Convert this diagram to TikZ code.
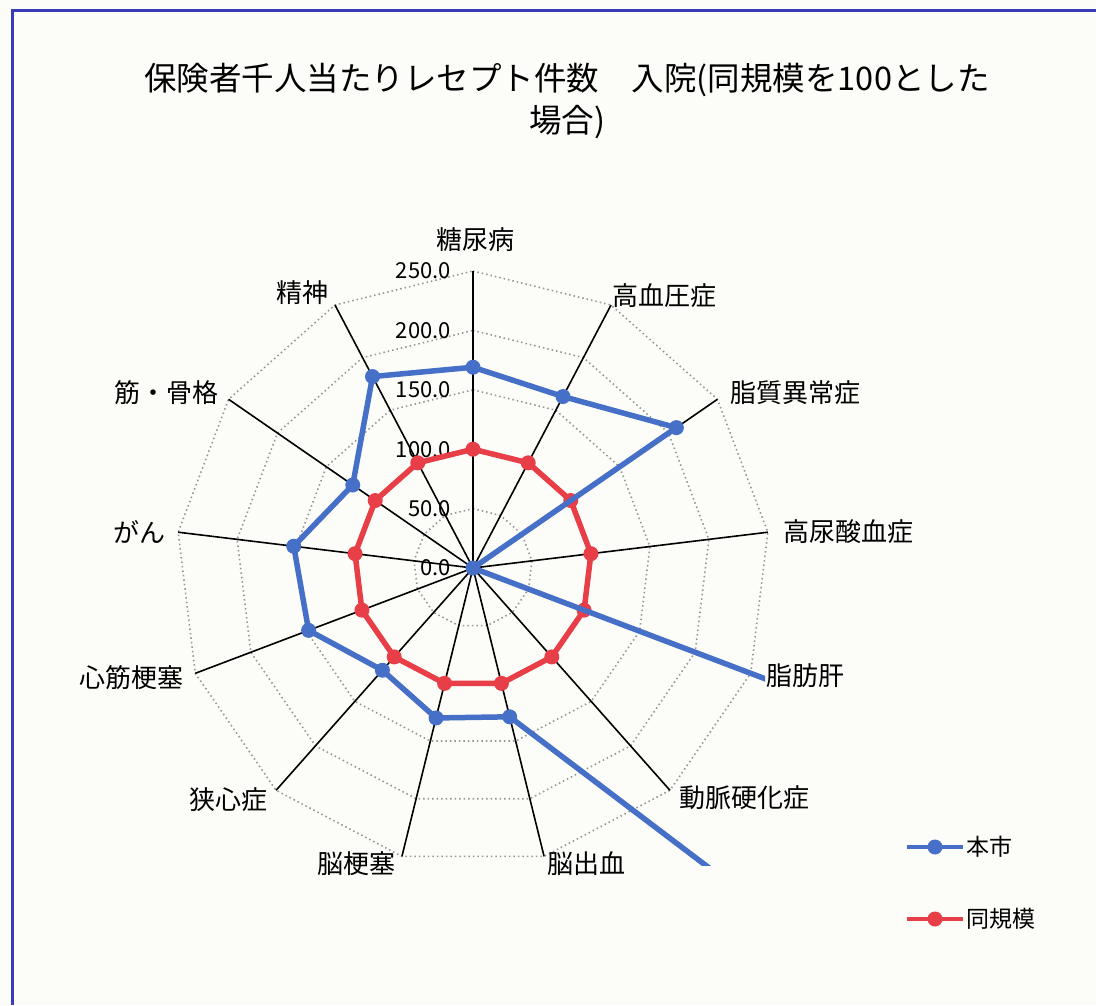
\documentclass[tikz,border=0pt]{standalone}
\usepackage{fontspec}
\setmainfont{Noto Sans CJK JP}
\usetikzlibrary{calc}
\definecolor{bgcol}{RGB}{252,252,248}
\definecolor{framecol}{RGB}{55,60,185}
\definecolor{serA}{RGB}{70,112,200}
\definecolor{serB}{RGB}{232,62,72}
\definecolor{gridcol}{RGB}{150,150,150}
\tikzset{
  gridring/.style={draw=gridcol, line width=1.6pt, dash pattern=on 1.5pt off 3pt},
  spoke/.style={draw=black, line width=1.6pt},
  seriesA/.style={draw=serA, line width=5.5pt, line join=round},
  seriesB/.style={draw=serB, line width=5.5pt, line join=round},
  dotA/.style={fill=serA, circle, inner sep=0pt, minimum size=15pt},
  dotB/.style={fill=serB, circle, inner sep=0pt, minimum size=15pt},
  catlabel/.style={font=\fontsize{26}{30}\selectfont, inner sep=0pt},
  ticklabel/.style={font=\fontsize{22}{26}\selectfont, inner sep=0pt, anchor=east},
  legtext/.style={font=\fontsize{23}{27}\selectfont, inner sep=0pt, anchor=west},
}
\begin{document}
\begin{tikzpicture}[x=1pt,y=1pt]
\useasboundingbox (0,0) rectangle (1096,-1005);
\fill[bgcol] (0,0) rectangle (1096,-1005);
\draw[framecol, line width=3pt] (12,-1005) -- (12,-10) -- (1096,-10);

% title
\node[font=\fontsize{32.5}{42}\selectfont, align=center, inner sep=0pt] (title) at (567,-101)
  {保険者千人当たりレセプト件数　入院(同規模を100とした\\場合)};

\coordinate (O) at (473,-568);

% grid rings
\foreach \r in {1,...,5}{
  \draw[gridring] ($(O)+(90:\r*59.4)$)
    \foreach \k in {1,...,12}{ -- ($(O)+({90-\k*360/13}:\r*59.4)$) } -- cycle;
}

% spokes
\foreach \k in {0,...,12}{
  \coordinate (ax\k) at ($(O)+({90-\k*360/13}:297)$);
  \draw[spoke] (O) -- (ax\k);
}

% tick labels
\foreach \t [count=\i from 0] in {0.0,50.0,100.0,150.0,200.0,250.0}{
  \node[ticklabel] (tick\i) at (451,{-568+\i*59.4}) {\t};
}

% series B (同規模)
\foreach \k in {0,...,12}{
  \coordinate (b\k) at ($(O)+({90-\k*360/13}:118.8)$);
}
\draw[seriesB] (b0) -- (b1) -- (b2) -- (b3) -- (b4) -- (b5) -- (b6) -- (b7) -- (b8) -- (b9) -- (b10) -- (b11) -- (b12) -- cycle;
\foreach \k in {0,...,12}{ \node[dotB] (pb\k) at (b\k) {}; }

% series A (本市)
\foreach \v [count=\i from 0] in {169,163,208,0,300,414,129,130,115,148,152,123,182}{
  \coordinate (a\i) at ($(O)+({90-\i*360/13}:\v*1.188)$);
}
\begin{scope}
  \clip (0,0) rectangle (765,-865);
  \draw[seriesA] (a0) -- (a1) -- (a2) -- (a3) -- (a4) -- (a5) -- (a6) -- (a7) -- (a8) -- (a9) -- (a10) -- (a11) -- (a12) -- cycle;
  \foreach \k in {0,...,12}{ \node[dotA] (pa\k) at (a\k) {}; }
\end{scope}

% category labels
\node[catlabel, anchor=center] (c0) at (475,-240) {糖尿病};
\node[catlabel, anchor=west] (c1) at (612,-296) {高血圧症};
\node[catlabel, anchor=west] (c2) at (730,-393) {脂質異常症};
\node[catlabel, anchor=west] (c3) at (783,-532) {高尿酸血症};
\node[catlabel, anchor=west] (c4) at (766,-676) {脂肪肝};
\node[catlabel, anchor=west] (c5) at (679,-798) {動脈硬化症};
\node[catlabel, anchor=west] (c6) at (547,-864) {脳出血};
\node[catlabel, anchor=east] (c7) at (396,-864) {脳梗塞};
\node[catlabel, anchor=east] (c8) at (268,-800) {狭心症};
\node[catlabel, anchor=east] (c9) at (184,-678) {心筋梗塞};
\node[catlabel, anchor=east] (c10) at (166,-532) {がん};
\node[catlabel, anchor=east] (c11) at (219,-393) {筋・骨格};
\node[catlabel, anchor=east] (c12) at (329,-293) {精神};

% legend
\coordinate (lA1) at (907,-847);
\coordinate (lA2) at (963,-847);
\draw[seriesA, line width=4.5pt] (lA1) -- (lA2);
\node[dotA] (lAd) at (935,-847) {};
\node[legtext] (lAt) at (966,-847) {本市};
\coordinate (lB1) at (907,-919);
\coordinate (lB2) at (963,-919);
\draw[seriesB, line width=4.5pt] (lB1) -- (lB2);
\node[dotB] (lBd) at (935,-919) {};
\node[legtext] (lBt) at (966,-919) {同規模};
\end{tikzpicture}
\end{document}
